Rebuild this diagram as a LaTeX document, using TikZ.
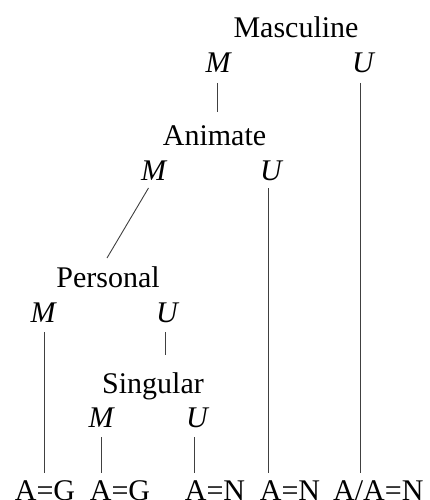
\documentclass[tikz,border=0pt]{standalone}
\usepackage{fontspec}
\setmainfont{Liberation Serif}
\begin{document}
\begin{tikzpicture}[x=1pt,y=-1pt,
  lab/.style={anchor=base,inner sep=0pt,font=\fontsize{30}{36}\selectfont},
  mu/.style={lab,font=\fontsize{30}{36}\selectfont\itshape},
  conn/.style={line width=0.9pt,black!75}]
\useasboundingbox (0,0) rectangle (430,500);
\clip (0,0) rectangle (430,500);
% level 1
\node[lab] (masc) at (296,38) {Masculine};
\node[mu] (m1) at (218,73) {M};
\node[mu] (u1) at (363,73) {U};
% level 2
\node[lab] (anim) at (214.5,145) {Animate};
\node[mu] (m2) at (153.5,180) {M};
\node[mu] (u2) at (271,180) {U};
% level 3
\node[lab] (pers) at (108,287) {Personal};
\node[mu] (m3) at (43,322) {M};
\node[mu] (u3) at (167,322) {U};
% level 4
\node[lab] (sing) at (153,393) {Singular};
\node[mu] (m4) at (101,427) {M};
\node[mu] (u4) at (197,427) {U};
% leaves
\node[lab] (l1) at (45,500) {A=G};
\node[lab] (l2) at (120,500) {A=G};
\node[lab] (l3) at (215,500) {A=N};
\node[lab] (l4) at (290,500) {A=N};
\node[lab,anchor=base west] (l5) at (333,500) {A/A=N};
% connectors
\draw[conn] ([xshift=-1pt,yshift=-10pt]m1.base) -- ([xshift=-1pt,yshift=33pt]m1.base |- anim.base);
\draw[conn] ([xshift=-3pt,yshift=-10pt]u1.base) -- ([xshift=-3pt,yshift=27pt]u1.base |- l5.base);
\draw[conn] ([xshift=-5pt,yshift=-8pt]m2.base) -- ([xshift=-1pt,yshift=29pt]pers.base);
\draw[conn] ([xshift=-3pt,yshift=-8pt]u2.base) -- ([xshift=-3pt,yshift=27pt]u2.base |- l4.base);
\draw[conn] ([xshift=1pt,yshift=-10pt]m3.base) -- ([xshift=1pt,yshift=27pt]m3.base |- l1.base);
\draw[conn] ([xshift=-2pt,yshift=-10pt]u3.base) -- ([xshift=-2pt,yshift=38pt]u3.base |- sing.base);
\draw[conn] ([yshift=-10pt]m4.base) -- ([yshift=27pt]m4.base |- l2.base);
\draw[conn] ([xshift=-3pt,yshift=-10pt]u4.base) -- ([xshift=-3pt,yshift=27pt]u4.base |- l3.base);
\end{tikzpicture}
\end{document}
